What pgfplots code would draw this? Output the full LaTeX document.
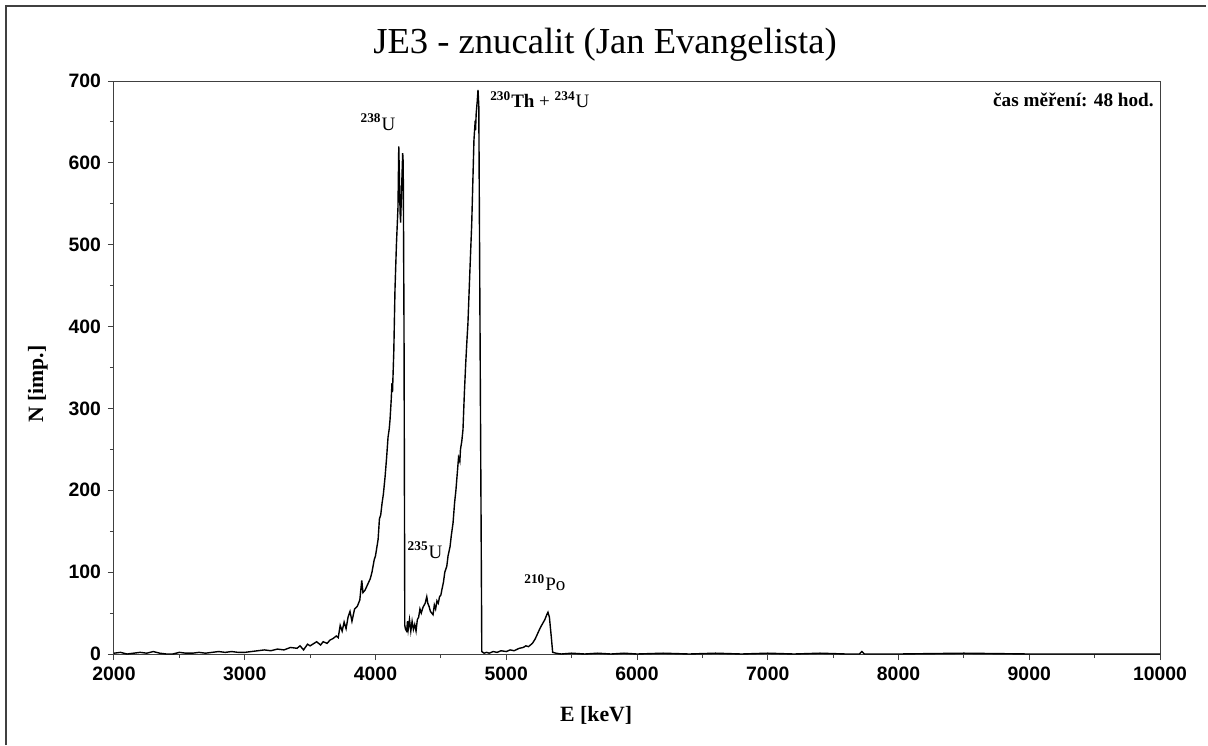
\documentclass[border=0pt]{standalone}
\usepackage{fontspec}
\setmainfont{Liberation Serif}
\newfontfamily\arialf{Liberation Sans}
\usepackage{pgfplots}
\pgfplotsset{compat=1.18}

\newcommand{\iso}[2]{\textsuperscript{\textbf{#1}}#2}

\begin{document}
\begin{tikzpicture}[x=1pt,y=1pt]
  % page = 1208 x 745 px, 1 px = 0.5 pt, origin at the axis' lower left corner
  \path[use as bounding box] (-57,-45.5) rectangle (547,327);
  \draw[black!75, line width=0.8pt] (-54,-45.5) -- (-54,324) -- (546,324);
  \node[font=\fontsize{18.3}{20}\selectfont] at (245.5,304.5) {JE3 - znucalit (Jan Evangelista)};

  \begin{axis}[
    at={(0,0)}, anchor=origin,
    scale only axis,
    width=523pt, height=286.5pt,
    xmin=2000, xmax=10000,
    ymin=0, ymax=700,
    xtick={2000,3000,...,10000},
    ytick={0,100,...,700},
    scaled x ticks=false,
    scaled y ticks=false,
    minor x tick num=1,
    minor y tick num=1,
    tick align=outside,
    major tick length=3pt,
    minor tick length=2pt,
    xtick pos=bottom, ytick pos=left,
    axis line style={black!75, line width=0.5pt},
    every tick/.style={black!75, line width=0.5pt},
    /pgf/number format/1000 sep={},
    /pgf/number format/assume math mode=true,
    ticklabel style={font=\arialf\bfseries\fontsize{9.7}{11}\selectfont},
    xlabel={E [keV]},
    ylabel={N [imp.]},
    label style={font=\bfseries\fontsize{10.9}{12}\selectfont},
    x label style={at={(rel axis cs:0.461,-0.108)}, anchor=center},
    y label style={at={(rel axis cs:-0.0727,0.471)}, anchor=center, rotate=0},
    clip=false,
  ]
    \addplot[black, line width=0.7pt, mark=none] coordinates {
      (2000,1) (2050,2) (2100,0) (2150,1) (2200,2) (2250,1) (2300,3) (2350,1)
      (2400,0) (2450,0) (2500,2) (2550,1) (2600,1) (2650,2) (2700,1) (2750,2)
      (2800,3) (2850,2) (2900,3) (2950,2) (3000,2) (3050,3) (3100,4) (3150,5)
      (3200,4) (3250,6) (3300,5) (3350,8) (3400,7) (3423,10) (3450,5) (3480,12)
      (3500,10) (3530,13) (3550,15) (3580,11) (3600,15) (3630,13) (3652,17)
      (3676,19) (3700,22) (3715,20) (3730,35) (3745,28) (3760,39) (3775,31)
      (3790,45) (3805,52) (3820,40) (3840,55) (3860,58) (3880,66) (3895,90)
      (3904,75) (3920,78) (3940,85) (3960,92) (3973,100) (3990,115) (4000,120)
      (4011,131) (4020,140) (4030,165) (4040,170) (4050,184) (4060,195)
      (4073,216) (4085,240) (4096,265) (4105,275) (4111,286) (4120,310)
      (4126,331) (4130,320) (4140,370) (4149,445) (4160,500) (4172,546)
      (4178,620) (4183,580) (4188,540) (4192,527) (4200,570) (4208,612)
      (4212,600) (4218,400) (4224,35) (4230,30) (4238,28) (4245,40) (4250,30)
      (4260,42) (4270,28) (4280,40) (4290,30) (4300,36) (4310,28) (4320,42)
      (4330,45) (4340,55) (4350,50) (4363,57) (4380,62) (4392,70) (4400,62)
      (4410,58) (4420,52) (4440,48) (4450,60) (4460,55) (4470,65) (4480,62)
      (4490,70) (4500,72) (4507,78) (4520,88) (4530,100) (4545,107) (4555,120)
      (4570,131) (4580,145) (4593,160) (4605,185) (4615,200) (4625,220)
      (4635,240) (4645,235) (4650,250) (4660,260) (4669,274) (4680,320)
      (4690,355) (4700,385) (4707,404) (4720,460) (4736,526) (4745,580)
      (4753,628) (4760,645) (4765,640) (4770,660) (4778,675) (4784,689)
      (4790,670) (4813,3) (4830,1) (4850,2) (4870,1) (4900,3) (4930,2)
      (4960,4) (5000,3) (5030,5) (5060,4) (5100,7) (5130,8) (5150,10)
      (5170,9) (5200,13) (5220,18) (5243,26) (5260,32) (5281,38) (5295,42)
      (5310,48) (5319,51) (5330,45) (5345,20) (5355,2) (5380,1) (5420,0)
      (5500,1) (5600,0) (5700,1) (5800,0) (5900,1) (6000,0) (6200,1) (6400,0)
      (6600,1) (6800,0) (7000,1) (7200,0) (7400,1) (7600,0) (7700,0)
      (7720,3) (7740,0) (8000,0) (8500,1) (9000,0) (9500,0) (10000,0)
    };
    \node[font=\fontsize{9.5}{11}\selectfont] at (axis cs:4019,650) {\iso{238}{U}};
    \node[font=\fontsize{9.5}{11}\selectfont, anchor=west, inner sep=0pt] at (axis cs:4875,677) {\iso{230}{\textbf{Th}} + \iso{234}{U}};
    \node[font=\fontsize{9.5}{11}\selectfont] at (axis cs:4379,127) {\iso{235}{U}};
    \node[font=\fontsize{9.5}{11}\selectfont] at (axis cs:5296,87) {\iso{210}{Po}};
    \node[font=\bfseries\fontsize{9.6}{11}\selectfont, anchor=east, inner sep=0pt] at (axis cs:9955,677) {čas měření: 48 hod.};
  \end{axis}
\end{tikzpicture}
\end{document}
